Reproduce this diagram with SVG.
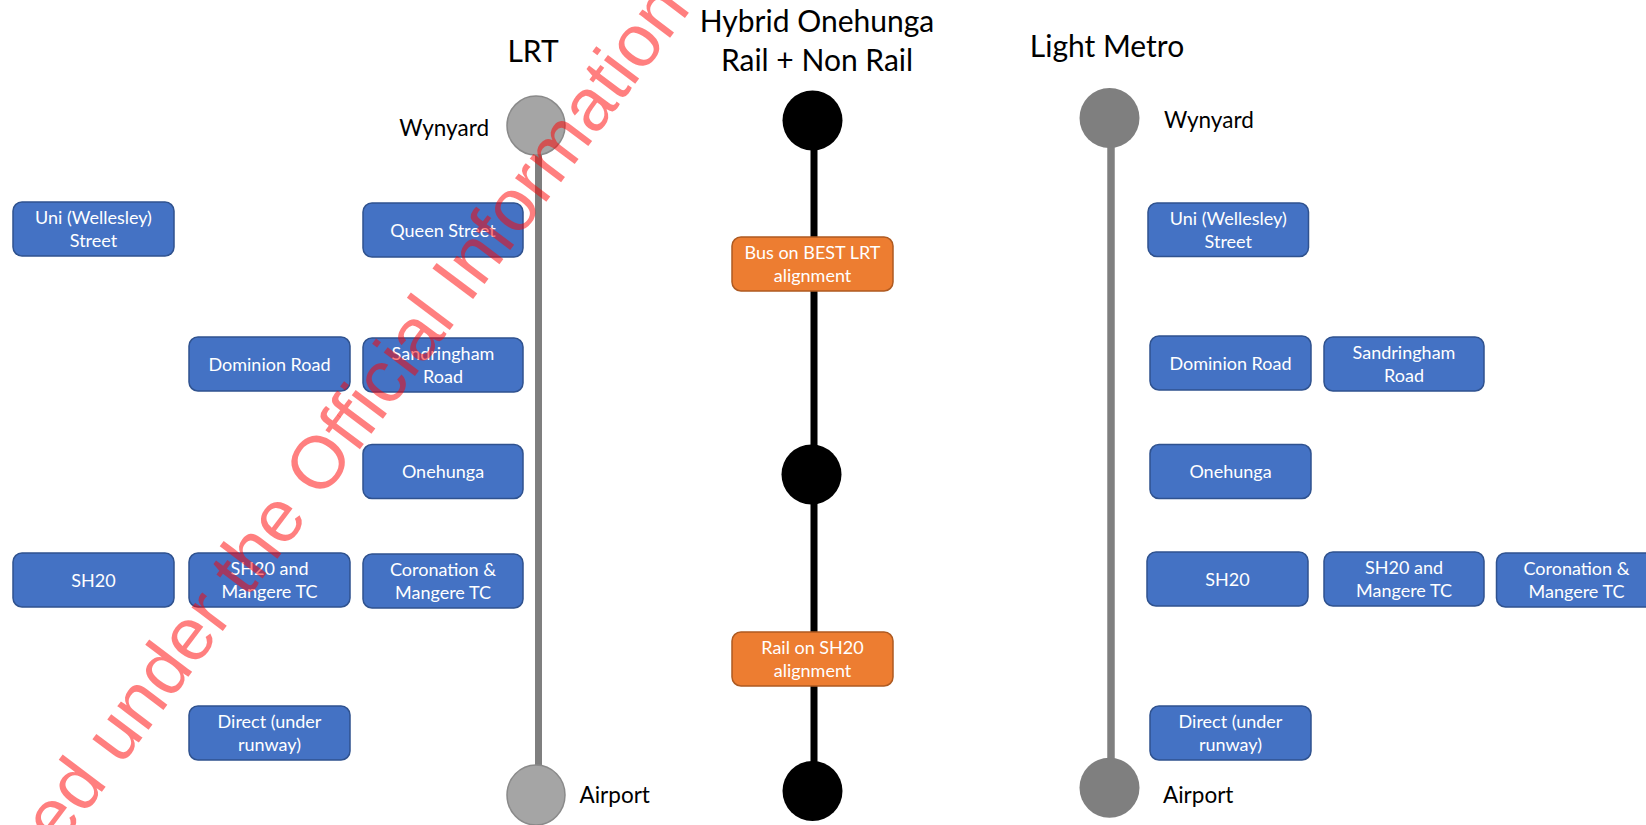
<svg xmlns="http://www.w3.org/2000/svg" width="1646" height="825" viewBox="0 0 1646 825">
<style>
  .bg{fill:#ffffff}
  .box rect{fill:#4472C4;stroke:#2F528F;stroke-width:1.5}
  .obox rect{fill:#ED7D31;stroke:#AE5A21;stroke-width:1.5}
  .box text,.obox text{font-family:Lato,"Open Sans","Liberation Sans",sans-serif;font-size:18px;fill:#ffffff;text-anchor:middle}
  .title{font-family:Lato,"Open Sans","Liberation Sans",sans-serif;font-size:30px;fill:#000000;text-anchor:middle}
  .lbl{font-family:Lato,"Open Sans","Liberation Sans",sans-serif;font-size:22.5px;fill:#000000}
  .lrtc{fill:#A5A5A5;stroke:#8A8A8A;stroke-width:1.5}
  .lmc{fill:#7F7F7F}
  .hyc{fill:#000000}
  .lrtline{stroke:#7F7F7F;stroke-width:7}
  .lmline{stroke:#808080;stroke-width:7.5}
  .hyline{stroke:#000000;stroke-width:7}
  .wm{font-family:"Liberation Sans",Arial,sans-serif;font-size:74px;fill:#FF0000;fill-opacity:0.5}
</style>
<rect class="bg" x="0" y="0" width="1646" height="825"/>

<g id="connectors">
  <line class="lrtline" x1="538.5" y1="125" x2="538.5" y2="792"/>
  <line class="hyline" x1="814" y1="120" x2="814" y2="791"/>
  <line class="lmline" x1="1111" y1="118" x2="1111" y2="788"/>
</g>

<!-- Titles -->
<g id="title-lrt"><text class="title" x="533" y="62">LRT</text></g>
<g id="title-hybrid"><text class="title" x="817" y="31.7">Hybrid Onehunga</text><text class="title" x="817" y="70.7">Rail + Non Rail</text></g>
<g id="title-lm"><text class="title" x="1107" y="56.7">Light Metro</text></g>

<!-- LRT column -->
<g id="lrt-wynyard"><ellipse class="lrtc" cx="536" cy="125.5" rx="29" ry="29.5"/><text class="lbl" x="489" y="136" text-anchor="end">Wynyard</text></g>
<g id="lrt-airport"><ellipse class="lrtc" cx="536" cy="795" rx="29" ry="30"/><text class="lbl" x="579.5" y="803">Airport</text></g>
<g id="lrt-uni" class="box"><rect x="13" y="202" width="161" height="54" rx="9"/><text x="93.5" y="224">Uni (Wellesley)</text><text x="93.5" y="247.3">Street</text></g>
<g id="lrt-queen" class="box"><rect x="363" y="203" width="160" height="54" rx="9"/><text x="443" y="236.5">Queen Street</text></g>
<g id="lrt-dominion" class="box"><rect x="189" y="337" width="161" height="54" rx="9"/><text x="269.5" y="370.5">Dominion Road</text></g>
<g id="lrt-sandringham" class="box"><rect x="363" y="338" width="160" height="54" rx="9"/><text x="443" y="360">Sandringham</text><text x="443" y="383.3">Road</text></g>
<g id="lrt-onehunga" class="box"><rect x="363" y="444.5" width="160" height="54" rx="9"/><text x="443" y="478">Onehunga</text></g>
<g id="lrt-sh20" class="box"><rect x="13" y="553" width="161" height="54" rx="9"/><text x="93.5" y="586.5">SH20</text></g>
<g id="lrt-sh20m" class="box"><rect x="189" y="553" width="161" height="54" rx="9"/><text x="269.5" y="575">SH20 and</text><text x="269.5" y="598.3">Mangere TC</text></g>
<g id="lrt-coronation" class="box"><rect x="363" y="554" width="160" height="54" rx="9"/><text x="443" y="575.7">Coronation &amp;</text><text x="443" y="599">Mangere TC</text></g>
<g id="lrt-direct" class="box"><rect x="189" y="706" width="161" height="54" rx="9"/><text x="269.5" y="728">Direct (under</text><text x="269.5" y="751.3">runway)</text></g>

<!-- Hybrid column -->
<g id="hy-top"><circle class="hyc" cx="812.5" cy="120.5" r="30"/></g>
<g id="hy-bus" class="obox"><rect x="732" y="237" width="161" height="54" rx="9"/><text x="812.5" y="258.5">Bus on BEST LRT</text><text x="812.5" y="281.8">alignment</text></g>
<g id="hy-mid"><circle class="hyc" cx="811.5" cy="474.5" r="30"/></g>
<g id="hy-rail" class="obox"><rect x="732" y="632" width="161" height="54" rx="9"/><text x="812.5" y="653.5">Rail on SH20</text><text x="812.5" y="676.8">alignment</text></g>
<g id="hy-bottom"><circle class="hyc" cx="812.5" cy="791" r="30"/></g>

<!-- Light Metro column -->
<g id="lm-wynyard"><circle class="lmc" cx="1109.5" cy="118" r="30"/><text class="lbl" x="1164" y="128">Wynyard</text></g>
<g id="lm-airport"><circle class="lmc" cx="1109.5" cy="787.7" r="30"/><text class="lbl" x="1163" y="803">Airport</text></g>
<g id="lm-uni" class="box"><rect x="1148" y="203" width="160.5" height="53.5" rx="9"/><text x="1228.3" y="224.7">Uni (Wellesley)</text><text x="1228.3" y="248">Street</text></g>
<g id="lm-dominion" class="box"><rect x="1150" y="336" width="161" height="54" rx="9"/><text x="1230.5" y="369.5">Dominion Road</text></g>
<g id="lm-sandringham" class="box"><rect x="1324" y="337" width="160" height="54" rx="9"/><text x="1404" y="359">Sandringham</text><text x="1404" y="382.3">Road</text></g>
<g id="lm-onehunga" class="box"><rect x="1150" y="444.5" width="161" height="54" rx="9"/><text x="1230.5" y="478">Onehunga</text></g>
<g id="lm-sh20" class="box"><rect x="1147" y="552" width="161" height="54" rx="9"/><text x="1227.5" y="585.5">SH20</text></g>
<g id="lm-sh20m" class="box"><rect x="1324" y="552" width="160" height="54" rx="9"/><text x="1404" y="574">SH20 and</text><text x="1404" y="597.3">Mangere TC</text></g>
<g id="lm-coronation" class="box"><rect x="1496.5" y="553" width="160" height="54" rx="9"/><text x="1576.5" y="575">Coronation &amp;</text><text x="1576.5" y="598.3">Mangere TC</text></g>
<g id="lm-direct" class="box"><rect x="1150" y="706" width="161" height="54" rx="9"/><text x="1230.5" y="728">Direct (under</text><text x="1230.5" y="751.3">runway)</text></g>

<!-- Watermark -->
<g id="watermark"><text class="wm" x="-695" y="0" transform="translate(338.5 477.6) rotate(-53)">Released under the Official Information Act</text></g>
</svg>
